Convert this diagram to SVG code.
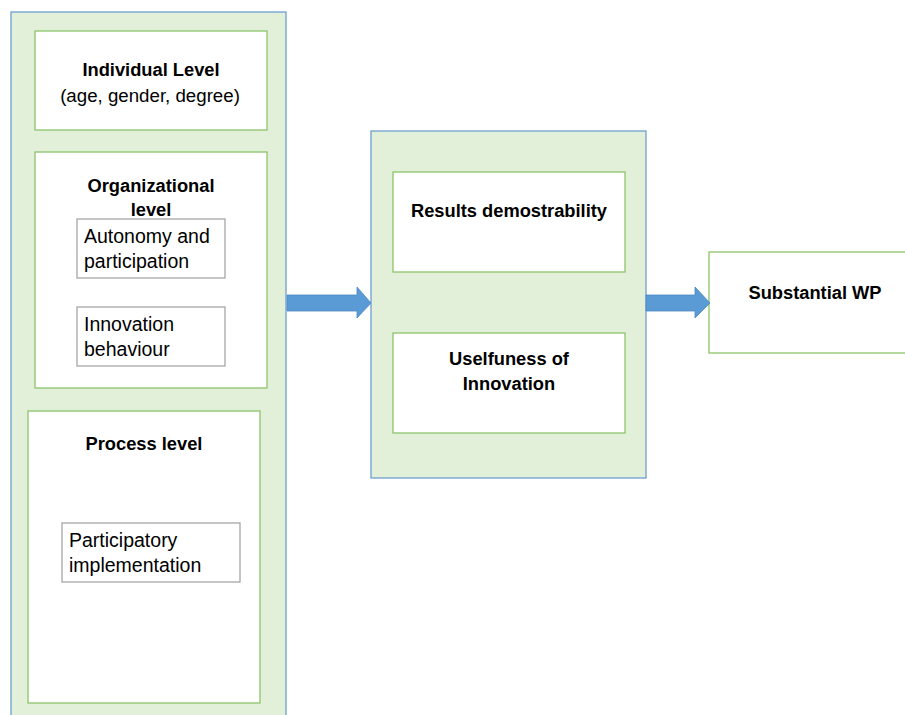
<svg xmlns="http://www.w3.org/2000/svg" width="905" height="715" viewBox="0 0 905 715">
<style>
.panel{fill:#e2efd9;stroke:#6f9fd0;stroke-width:1.3}
.gbox{fill:#ffffff;stroke:#8cc46b;stroke-width:1.3}
.sbox{fill:#ffffff;stroke:#a6a6a6;stroke-width:1.3}
.t{font-family:"Liberation Sans",Arial,sans-serif;font-size:19.5px;fill:#000}
.b{font-weight:bold;text-anchor:middle;font-size:18.3px}
.arrow{fill:#5b9bd5;stroke:#4a88c4;stroke-width:0.8}
</style>
<rect width="905" height="715" fill="#ffffff"/>
<g id="left-panel">
<rect class="panel" x="11" y="12" width="275" height="710"/>
</g>
<g id="individual">
<rect class="gbox" x="35" y="31" width="232" height="99"/>
<text class="t b" x="151" y="76">Individual Level</text>
<text class="t" x="150" y="102" text-anchor="middle" style="font-size:18.7px">(age, gender, degree)</text>
</g>
<g id="organizational">
<rect class="gbox" x="35" y="152" width="232" height="236"/>
<text class="t b" x="151" y="192">Organizational</text>
<text class="t b" x="151" y="216">level</text>
</g>
<g id="autonomy">
<rect class="sbox" x="77" y="219" width="148" height="59"/>
<text class="t" x="84" y="243">Autonomy and</text>
<text class="t" x="84" y="268">participation</text>
</g>
<g id="innovation-behaviour">
<rect class="sbox" x="77" y="307" width="148" height="59"/>
<text class="t" x="84" y="331">Innovation</text>
<text class="t" x="84" y="356">behaviour</text>
</g>
<g id="process">
<rect class="gbox" x="28" y="411" width="232" height="292"/>
<text class="t b" x="144" y="450">Process level</text>
</g>
<g id="participatory">
<rect class="sbox" x="62" y="523" width="178" height="59"/>
<text class="t" x="69" y="547">Participatory</text>
<text class="t" x="69" y="572">implementation</text>
</g>
<g id="middle-panel">
<rect class="panel" x="371" y="131" width="275" height="347"/>
</g>
<g id="results">
<rect class="gbox" x="393" y="172" width="232" height="100"/>
<text class="t b" x="509" y="217">Results demostrability</text>
</g>
<g id="usefulness">
<rect class="gbox" x="393" y="333" width="232" height="100"/>
<text class="t b" x="509" y="365">Uselfuness of</text>
<text class="t b" x="509" y="390">Innovation</text>
</g>
<g id="substantial">
<rect class="gbox" x="709" y="252" width="205" height="101"/>
<text class="t b" x="815" y="299">Substantial WP</text>
</g>
<g id="connectors">
<polygon class="arrow" points="287,295 357,295 357,287 371,303 357,318 357,311 287,311"/>
<polygon class="arrow" points="646,295 695,295 695,287 710,303 695,318 695,311 646,311"/>
</g>
</svg>
